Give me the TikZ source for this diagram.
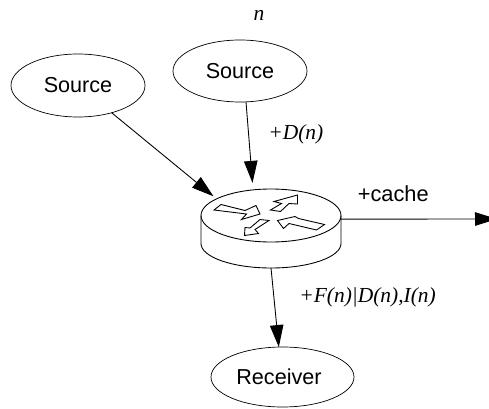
\documentclass[tikz,border=0pt]{standalone}
\usepackage{fontspec}
\setmainfont{Liberation Serif}
\setsansfont{Liberation Sans}
\usetikzlibrary{arrows.meta,shapes.geometric}
\tikzset{
 host/.style={draw,ellipse,inner sep=0pt,outer sep=0pt,font=\sffamily\fontsize{12.3}{14}\selectfont},
 lbl/.style={inner sep=0pt,anchor=base west,font=\itshape\fontsize{12.2}{14}\selectfont},
 flow/.style={-{Triangle[length=0.44cm,width=0.27cm]},line width=0.5pt},
 turn/.style={line width=0.5pt,line join=miter}
}
\begin{document}
\begin{tikzpicture}
 \useasboundingbox (0,0) rectangle (9.78,8.16);
 \clip (0,0) rectangle (9.78,8.16);
 % nodes
 \node[host,minimum width=2.68cm,minimum height=1.26cm] (srca) at (1.56,6.45) {Source};
 \node[host,minimum width=2.68cm,minimum height=1.24cm] (srcb) at (4.80,6.74) {Source};
 \node[host,minimum width=2.86cm,minimum height=1.20cm] (recv) at (5.65,0.62) {\hspace*{-0.14cm}Receiver};
 \node[draw,ellipse,inner sep=0pt,outer sep=0pt,minimum width=2.80cm,minimum height=1.06cm,line width=0.5pt] (router) at (5.42,3.85) {};
 \coordinate (base) at (5.42,2.80);
 \coordinate (out) at (9.94,3.78);
 % router body
 \draw[line width=0.5pt] (router.west) -- ++(0,-0.56) arc (180:360:1.4 and 0.49) -- (router.east);
 % arrows on top of the router
 \draw[turn] (4.28,3.96) -- (4.42,4.07) -- (4.90,3.95) -- (5.12,4.05) -- (5.20,3.88) -- (4.83,3.77) -- (4.93,3.88) -- cycle;
 \draw[turn] (5.38,3.75) -- (5.20,3.77) -- (5.00,3.60) -- (4.90,3.61) -- (4.89,3.45) -- (5.17,3.49) -- (5.10,3.57) -- cycle;
 \draw[turn] (5.41,3.96) -- (5.61,3.93) -- (5.78,4.09) -- (5.95,4.08) -- (5.95,4.26) -- (5.48,4.13) -- (5.63,4.09) -- cycle;
 \draw[turn] (5.55,3.75) -- (5.67,3.59) -- (5.78,3.69) -- (6.33,3.56) -- (6.49,3.67) -- (5.97,3.79) -- (5.90,3.83) -- cycle;
 % connectors
 \draw[flow,shorten >=0.08cm] (srca.-39) -- (router.163);
 \draw[flow,shorten >=0.14cm] (srcb.-79) -- (router.125);
 \draw[flow] (base) -- (recv.97);
 \draw[flow] (router.-3) -- (out);
 % labels
 \node[lbl,anchor=base] (idx) at (5.18,7.75) {n};
 \node[lbl] (dlbl) at (5.36,5.38) {+D(n)};
 \node[lbl] (flbl) at (5.98,2.12) {+F(n)|D(n),I(n)};
 \node[inner sep=0pt,anchor=base west,font=\sffamily\fontsize{12.4}{14}\selectfont] (clbl) at (7.15,4.14) {+cache};
\end{tikzpicture}
\end{document}
